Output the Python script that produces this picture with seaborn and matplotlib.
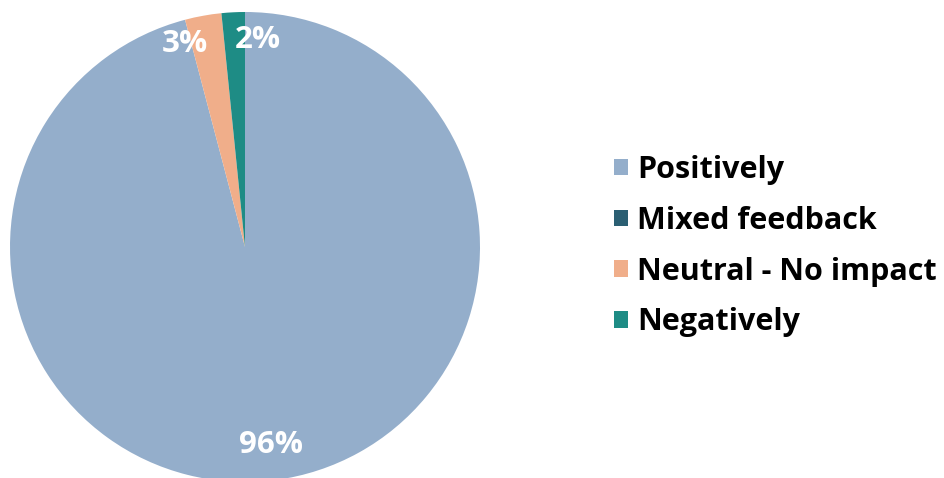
import matplotlib
matplotlib.use("Agg")
import matplotlib.pyplot as plt
import seaborn as sns
import numpy as np
from matplotlib.patches import Patch

categories = ["Positively", "Mixed feedback", "Neutral - No impact", "Negatively"]
values = [95.8, 0.0, 2.5, 1.6]
pct_labels = ["96%", "", "3%", "2%"]
colors = ["#94AECB", "#2B5F73", "#F0AE8A", "#1E8C85"]

sns.set_theme(style="white")
plt.rcParams['font.family'] = ['Open Sans', 'DejaVu Sans']
palette = sns.color_palette(colors)

fig = plt.figure(figsize=(9.44, 4.78), dpi=100)
ax = fig.add_axes([10/944, -4/478, 470/944, 470/478])
wedges, _ = ax.pie(values, colors=palette, startangle=90, counterclock=False,
                   radius=1.0, wedgeprops=dict(linewidth=0))
ax.set_xlim(-1, 1)
ax.set_ylim(-1, 1)
ax.set_aspect('equal')
ax.axis('off')

offsets = {0: (0.0, 0.0), 2: (-0.10, 0.0), 3: (0.10, 0.0)}
dists = {0: 0.85, 2: 0.88, 3: 0.88}
for i, w in enumerate(wedges):
    if not pct_labels[i]:
        continue
    ang = np.deg2rad((w.theta1 + w.theta2) / 2)
    d = dists[i]
    x = d * np.cos(ang) + offsets[i][0]
    y = d * np.sin(ang) + offsets[i][1]
    ax.text(x, y, pct_labels[i], ha='center', va='center', color='white',
            fontsize=22.5, fontweight='bold')

handles = [Patch(facecolor=c, edgecolor='none') for c in colors]
fig.legend(handles, categories, loc='center left', bbox_to_anchor=(614/944, 0.485),
           frameon=False, handlelength=0.45, handleheight=0.45,
           handletextpad=0.3, labelspacing=0.68, borderpad=0, borderaxespad=0,
           labelcolor='black',
           prop=dict(family=['Open Sans', 'DejaVu Sans'], weight='bold', size=22))

fig.savefig("out.png", dpi=100)
